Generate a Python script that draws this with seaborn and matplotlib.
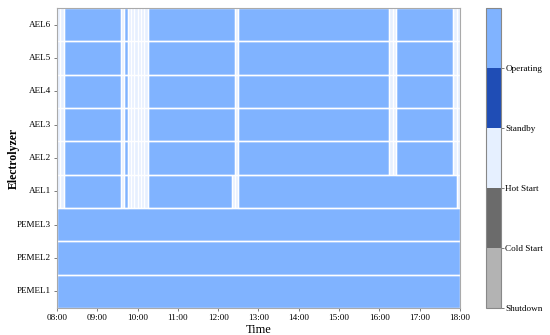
import numpy as np
import pandas as pd
import matplotlib
matplotlib.use("Agg")
import matplotlib.pyplot as plt
from matplotlib.colors import ListedColormap
from matplotlib.patches import Rectangle
import seaborn as sns

# ---- data ----
state_names = ["Shutdown", "Cold Start", "Hot Start", "Standby", "Operating"]
state_colors = ["#b3b3b3", "#6b6b6b", "#e6f0ff", "#1f4db5", "#80b3ff"]
time_labels = ["08:00", "09:00", "10:00", "11:00", "12:00", "13:00",
               "14:00", "15:00", "16:00", "17:00", "18:00"]
step_minutes = 5
electrolyzers = ["AEL6", "AEL5", "AEL4", "AEL3", "AEL2", "AEL1",
                 "PEMEL3", "PEMEL2", "PEMEL1"]
# runs of (state code, number of 5-min steps); 0=Shutdown .. 4=Operating
runs_ael_2to6 = [(2, 2), (4, 17), (2, 1), (4, 1), (2, 6), (4, 26), (2, 1),
                 (4, 45), (2, 2), (4, 17), (2, 2)]
runs_ael1 = [(2, 2), (4, 17), (2, 1), (4, 1), (2, 6), (4, 25), (2, 2),
             (4, 65), (2, 1)]
runs_pemel = [(4, 120)]
runs_by_unit = {
    "AEL6": runs_ael_2to6, "AEL5": runs_ael_2to6, "AEL4": runs_ael_2to6,
    "AEL3": runs_ael_2to6, "AEL2": runs_ael_2to6, "AEL1": runs_ael1,
    "PEMEL3": runs_pemel, "PEMEL2": runs_pemel, "PEMEL1": runs_pemel,
}

# ---- build matrix ----
rows = []
for u in electrolyzers:
    r = []
    for s, n in runs_by_unit[u]:
        r += [s] * n
    rows.append(r)
mat = pd.DataFrame(rows, index=electrolyzers)
ncols = mat.shape[1]

plt.rcParams["font.family"] = ["Liberation Serif", "DejaVu Serif"]

fig = plt.figure(figsize=(5.5, 3.35), dpi=100)
ax = fig.add_axes([0.1036, 0.0806, 0.7327, 0.8955])
cax = fig.add_axes([0.8836, 0.0806, 0.0273, 0.8955])

cmap = ListedColormap(state_colors)
sns.heatmap(mat, ax=ax, cbar_ax=cax, cmap=cmap, vmin=0, vmax=5,
            linewidths=0, xticklabels=False, yticklabels=True)

# white borders around each run (hot-start steps individually)
for yi, u in enumerate(electrolyzers):
    x0 = 0
    for s, n in runs_by_unit[u]:
        if s == 2:
            for k in range(n):
                ax.add_patch(Rectangle((x0 + k, yi), 1, 1, fill=False,
                                       edgecolor="white", lw=0.9))
        else:
            ax.add_patch(Rectangle((x0, yi), n, 1, fill=False,
                                   edgecolor="white", lw=1.0))
        x0 += n

ax.set_xticks(np.arange(0, ncols + 1, 60 // step_minutes))
ax.set_xticklabels(time_labels, rotation=0, fontsize=6.6)
ax.set_yticklabels(electrolyzers, rotation=0, fontsize=6.6)
ax.tick_params(axis="both", length=2.5, width=0.6, color="#666666", pad=2)
ax.set_xlabel("Time", fontsize=9, labelpad=1)
ax.set_ylabel("Electrolyzer", fontsize=8.5, fontweight="bold", labelpad=-2)
for sp in ax.spines.values():
    sp.set_visible(True)
    sp.set_color("#aaaaaa")
    sp.set_linewidth(0.8)

cb = ax.collections[0].colorbar
cb.set_ticks([0, 1, 2, 3, 4])
cb.set_ticklabels(state_names)
cb.ax.tick_params(labelsize=6.6, length=2, width=0.6, color="#666666", pad=1)
cb.outline.set_edgecolor("#888888")
cb.outline.set_linewidth(0.8)

fig.savefig("out.png", dpi=100)
